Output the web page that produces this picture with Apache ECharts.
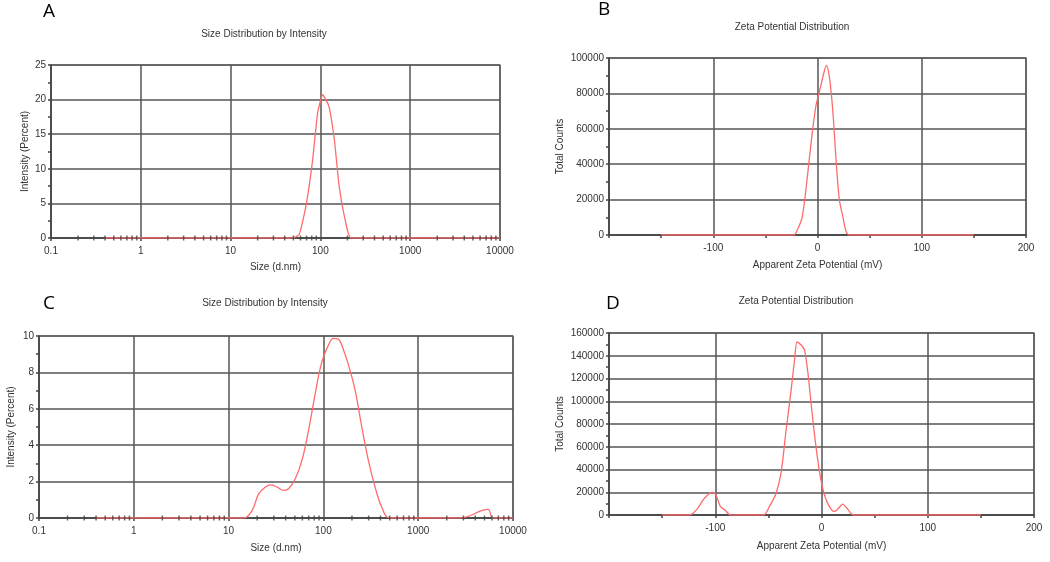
<!DOCTYPE html>
<html>
<head>
<meta charset="utf-8">
<script src="https://cdn.jsdelivr.net/npm/echarts@6/dist/echarts.min.js"></script>
<style>html,body{margin:0;padding:0;background:#fff;}#c{width:1050px;height:562px;}</style>
</head>
<body>
<div id="c"></div>
<script>
// Panel A: size distribution (log x)
var aSize = [0.4, 49, 58, 69, 82, 93, 106, 124, 143, 162, 190, 219, 10000];
var aInt  = [0, 0, 0.5, 4.6, 11.3, 18, 20.7, 19.1, 14.2, 7.4, 2.4, 0, 0];
// Panel B: zeta potential
var bZeta  = [-150, -23, -19.4, -14.6, -9.7, -5.8, -1.6, 2.6, 6.5, 8.5, 11.3, 14.6, 17.8, 21, 24.3, 27.5, 30.7, 150];
var bCount = [0, 0, 2800, 10400, 33000, 53800, 72600, 83000, 92500, 95800, 89600, 70800, 42500, 19800, 10400, 1900, 0, 0];
// Panel C: size distribution (log x)
var cSize = [0.4, 14.5, 17.7, 20.8, 24.5, 27.6, 32.5, 38, 43, 50.6, 59.4, 69.8, 82, 96.4, 113, 128, 144, 163, 184, 216, 254, 298, 351, 412, 504, 2750, 5420, 6150, 10000];
var cInt  = [0, 0, 0.42, 1.34, 1.7, 1.82, 1.7, 1.52, 1.61, 2.17, 3.17, 4.83, 6.84, 8.59, 9.5, 9.87, 9.82, 9.23, 8.4, 7.03, 5.0, 3.17, 1.7, 0.6, 0, 0, 0.47, 0, 0];
// Panel D: zeta potential
var dZeta  = [-150, -124, -117.5, -110, -102.5, -100, -95.2, -90.5, -85.7, -54.5, -49, -43, -38.1, -33.3, -28.6, -25.4, -23, -19, -15.9, -12.7, -9.5, -4.8, -0.6, 3.2, 7.3, 11.5, 14.9, 20, 23.8, 30.2, 150];
var dCount = [0, 0, 4700, 14900, 19900, 19300, 7600, 4100, 0, 0, 7600, 18500, 36800, 74700, 109800, 136000, 152100, 149200, 144800, 124400, 95200, 57200, 31000, 16400, 7600, 3200, 4700, 9600, 6100, 0, 0];
// Tick labels / minor tick positions
var logMinorTicks = [0.2,0.3,0.4,0.5,0.6,0.7,0.8,0.9, 2,3,4,5,6,7,8,9, 20,30,40,50,60,70,80,90, 200,300,400,500,600,700,800,900, 2000,3000,4000,5000,6000,7000,8000,9000];
var sizeTitle = 'Size Distribution by Intensity';
var zetaTitle = 'Zeta Potential Distribution';
var sizeXName = 'Size (d.nm)';
var sizeYName = 'Intensity (Percent)';
var zetaXName = 'Apparent Zeta Potential (mV)';
var zetaYName = 'Total Counts';

function zip(xs, ys) { return xs.map(function (x, i) { return [x, ys[i]]; }); }

var FONT = '"Liberation Sans", Arial, sans-serif';
var labelStyle = { color: '#333', fontSize: 10, fontFamily: FONT };
var gridLine = { show: true, lineStyle: { color: '#555', width: 1.5 } };
var axisLine = { show: true, onZero: false, lineStyle: { color: '#444', width: 1.5 } };
var tick = { show: true, length: 3, lineStyle: { color: '#444', width: 1.5 } };
var minor = { show: true, splitNumber: 2, length: 3, lineStyle: { color: '#444', width: 1.5 } };
var RED = '#ff6b6b';
function plain(v) { return String(Number(Number(v).toPrecision(6))); }

function logX(gi, gap) {
  return {
    type: 'log', logBase: 10, gridIndex: gi, min: 0.1, max: 10000, splitNumber: 5,
    axisLine: axisLine, axisTick: tick, splitLine: gridLine,
    axisLabel: Object.assign({ margin: 8, showMinLabel: true, showMaxLabel: true, formatter: plain }, labelStyle),
    name: sizeXName, nameLocation: 'middle', nameGap: gap, nameTextStyle: labelStyle
  };
}
function zetaX(gi, gap) {
  return {
    type: 'value', gridIndex: gi, min: -200, max: 200, interval: 100,
    axisLine: axisLine, axisTick: tick, minorTick: minor, splitLine: gridLine,
    axisLabel: Object.assign({ margin: 8, showMinLabel: false, formatter: plain }, labelStyle),
    name: zetaXName, nameLocation: 'middle', nameGap: gap, nameTextStyle: labelStyle
  };
}
function valY(gi, max, interval, name, gap) {
  return {
    type: 'value', gridIndex: gi, min: 0, max: max, interval: interval,
    axisLine: axisLine, axisTick: tick, minorTick: minor, splitLine: gridLine,
    axisLabel: Object.assign({ margin: 5, formatter: plain }, labelStyle),
    name: name, nameLocation: 'middle', nameGap: gap, nameTextStyle: labelStyle
  };
}
function lineSeries(i, data, smooth) {
  return { type: 'line', xAxisIndex: i, yAxisIndex: i, data: data, smooth: smooth,
    showSymbol: false, symbol: 'none', lineStyle: { color: RED, width: 1.3 }, itemStyle: { color: RED },
    silent: true, z: 3 };
}
function minorTickSeries(i) {
  return { type: 'scatter', xAxisIndex: i, yAxisIndex: i, data: logMinorTicks.map(function (v) { return [v, 0]; }),
    symbol: 'rect', symbolSize: [1.5, 5], itemStyle: { color: '#444' }, silent: true, z: 4 };
}
function letter(t, l, top) {
  return { text: t, left: l, top: top, padding: 0,
    textStyle: { fontSize: 19, fontWeight: 'normal', color: '#000', fontFamily: '"Open Sans", "Liberation Sans", sans-serif' } };
}
function heading(t, l, top) {
  return { text: t, left: l, top: top, padding: 0, textAlign: 'center',
    textStyle: { fontSize: 10, fontWeight: 'normal', color: '#333', fontFamily: FONT } };
}

var border = { show: true, borderColor: '#8a8a8a', borderWidth: 1.5, backgroundColor: 'transparent' };
var option = {
  animation: false,
  backgroundColor: '#fff',
  title: [
    letter('A', 43, 2), letter('B', 598, 0), letter('C', 43, 294), letter('D', 606, 294),
    heading(sizeTitle, 264, 29), heading(zetaTitle, 792, 22),
    heading(sizeTitle, 265, 298), heading(zetaTitle, 796, 296)
  ],
  grid: [
    Object.assign({ left: 51, top: 65, width: 449, height: 173 }, border),
    Object.assign({ left: 609, top: 58, width: 417, height: 177 }, border),
    Object.assign({ left: 39, top: 336, width: 474, height: 182 }, border),
    Object.assign({ left: 609, top: 333, width: 425, height: 182 }, border)
  ],
  xAxis: [logX(0, 24), zetaX(1, 25), logX(2, 25), zetaX(3, 26)],
  yAxis: [
    valY(0, 25, 5, sizeYName, 21),
    valY(1, 100000, 20000, zetaYName, 44),
    valY(2, 10, 2, sizeYName, 23),
    valY(3, 160000, 20000, zetaYName, 44)
  ],
  series: [
    lineSeries(0, zip(aSize, aInt), 0.15),
    lineSeries(1, zip(bZeta, bCount), 0.3),
    lineSeries(2, zip(cSize, cInt), 0.4),
    lineSeries(3, zip(dZeta, dCount), 0.25),
    minorTickSeries(0),
    minorTickSeries(2)
  ]
};
var chart = echarts.init(document.getElementById('c'), null, { renderer: 'canvas' });
chart.setOption(option);
</script>
</body>
</html>
